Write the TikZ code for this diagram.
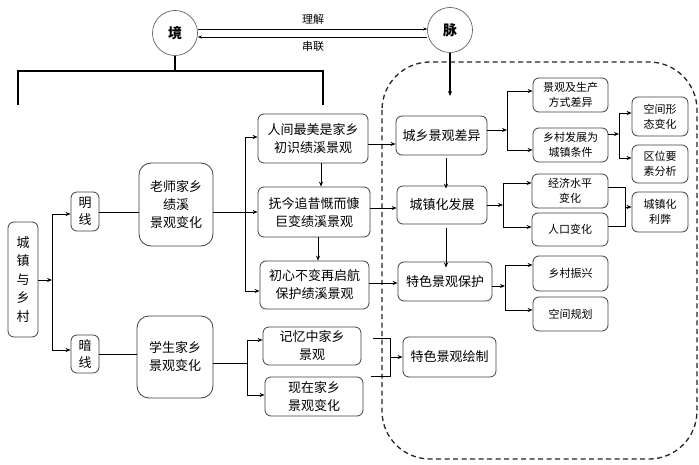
\documentclass[tikz,border=0pt]{standalone}
\usepackage{fontspec}
\setmainfont{Noto Sans CJK SC}
\usetikzlibrary{arrows.meta}
\begin{document}
\begin{tikzpicture}[x=1pt,y=-1pt,
  box/.style={draw=black!75, line width=0.8pt, rounded corners=6pt, align=center, inner sep=0pt, font=\fontsize{13}{18}\selectfont},
  sbox/.style={box, font=\fontsize{11}{15}\selectfont},
  bigbox/.style={box, rounded corners=12pt},
  circ/.style={draw=black!70, line width=0.6pt, circle, minimum size=45pt, inner sep=0pt, font=\fontsize{14}{16}\selectfont\bfseries},
  con/.style={line width=0.8pt},
  arr/.style={con, -{Stealth[length=5pt,width=4pt]}},
  lbl/.style={font=\fontsize{11}{13}\selectfont, inner sep=0pt}
]
\useasboundingbox (0,0) rectangle (699,465);
\fill[white] (0,0) rectangle (699,465);

% dashed region
\draw[line width=1.3pt, dash pattern=on 5pt off 3.5pt, rounded corners=48pt, black!85] (382,62) rectangle (697,459);

% circles
\node[circ] (jing) at (175,33) {境};
\node[circ] (mai) at (450,30) {脉};
\node[lbl] (lj) at (313,19) {理解};
\node[lbl] (cl) at (313,46) {串联};
\draw[con, line width=0.5pt, -{Stealth[length=4pt,width=3pt]}] (jing.east |- 0,29) -- (mai.west |- 0,29);
\draw[con, line width=0.7pt, -{Stealth[length=4pt,width=3pt]}] (mai.west |- 0,37) -- (jing.east |- 0,37);

% top bracket
\coordinate (bl) at (18,105);
\coordinate (br) at (323,105);
\coordinate (bm) at (175,71);
\draw[line width=1.5pt] (jing.south) -- (bm);
\draw[line width=1.5pt] (bl) -- (18,71) -- (323,71) -- (br);
\coordinate (mdown) at (450,96);
\draw[line width=1.2pt, -{Stealth[length=5pt,width=4pt]}] (mai.south) -- (mdown);

% left column
\node[box] (cx) at (23,279.5) [minimum width=30pt, minimum height=115pt, font=\fontsize{13}{18.5}\selectfont] {城\\镇\\与\\乡\\村};
\node[box] (ming) at (85,211.5) [minimum width=28pt, minimum height=39pt, font=\fontsize{13}{17}\selectfont] {明\\线};
\node[box] (an) at (85,354) [minimum width=28pt, minimum height=38pt, font=\fontsize{13}{17}\selectfont] {暗\\线};
\node[bigbox] (laoshi) at (176,204.5) [minimum width=74pt, minimum height=83pt] {老师家乡\\绩溪\\景观变化};
\node[bigbox] (xuesheng) at (175,357) [minimum width=76pt, minimum height=82pt] {学生家乡\\景观变化};

% middle column
\node[box] (renjian) at (313,138.5) [minimum width=110pt, minimum height=49pt] {人间最美是家乡\\初识绩溪景观};
\node[box] (fujin) at (314,212) [minimum width=112pt, minimum height=50pt] {抚今追昔慨而慷\\巨变绩溪景观};
\node[box] (chuxin) at (314.5,285) [minimum width=109pt, minimum height=48pt] {初心不变再启航\\保护绩溪景观};
\node[box] (jiyi) at (312,346) [minimum width=98pt, minimum height=38pt] {记忆中家乡\\景观};
\node[box] (xianzai) at (314,396.5) [minimum width=98pt, minimum height=39pt] {现在家乡\\景观变化};

% right main column
\node[box] (chayi) at (441.5,135.5) [minimum width=91pt, minimum height=39pt] {城乡景观差异};
\node[box] (czh) at (442,205) [minimum width=90pt, minimum height=38pt] {城镇化发展};
\node[box] (tsbh) at (445,281.5) [minimum width=94pt, minimum height=39pt] {特色景观保护};
\node[box] (tshz) at (449.5,357) [minimum width=93pt, minimum height=40pt] {特色景观绘制};

% small boxes
\node[sbox] (jgsc) at (570.5,95) [minimum width=75pt, minimum height=34pt] {景观及生产\\方式差异};
\node[sbox] (xcfz) at (570.5,145) [minimum width=75pt, minimum height=34pt] {乡村发展为\\城镇条件};
\node[sbox] (kjxt) at (660,116.5) [minimum width=56pt, minimum height=39pt] {空间形\\态变化};
\node[sbox] (qwys) at (660,164) [minimum width=56pt, minimum height=38pt] {区位要\\素分析};
\node[sbox] (jjsp) at (570,191) [minimum width=76pt, minimum height=34pt] {经济水平\\变化};
\node[sbox] (rkbh) at (570,229.5) [minimum width=76pt, minimum height=33pt] {人口变化};
\node[sbox] (czhlb) at (660,212) [minimum width=56pt, minimum height=40pt] {城镇化\\利弊};
\node[sbox] (xczx) at (570.5,273.5) [minimum width=75pt, minimum height=35pt] {乡村振兴};
\node[sbox] (kjgh) at (570.5,314) [minimum width=75pt, minimum height=34pt] {空间规划};

% left connectors
\draw[arr] (cx.east |- 0,280) -- (52,280);
\draw[arr] (52,280) |- (ming.west |- 0,214);
\draw[arr] (52,280) |- (an.west |- 0,350);
\draw[con] (ming.east |- 0,212) -- (laoshi.west |- 0,212);
\draw[con] (an.east |- 0,354) -- (xuesheng.west |- 0,354);

% laoshi bracket
\draw[con] (laoshi.east |- 0,212) -- (245,212);
\draw[arr] (245,212) |- (renjian.west |- 0,137);
\draw[arr] (245,212) -- (fujin.west |- 0,212);
\draw[arr] (245,212) |- (chuxin.west |- 0,291);

% xuesheng bracket
\draw[con] (xuesheng.east |- 0,363) -- (247,363);
\draw[arr] (247,363) |- (jiyi.west |- 0,340);
\draw[arr] (247,363) |- (xianzai.west |- 0,395);

% vertical chain in middle
\draw[arr] (321,0 |- renjian.south) -- (321,0 |- fujin.north);
\draw[arr] (318,0 |- fujin.south) -- (318,0 |- chuxin.north);

% middle to right
\draw[arr] (renjian.east |- 0,144) -- (chayi.west |- 0,144);
\draw[arr] (fujin.east |- 0,208) -- (czh.west |- 0,208);
\draw[arr] (chuxin.east |- 0,283) -- (tsbh.west |- 0,283);

% right vertical chain
\draw[arr] (446,0 |- chayi.south) ++(0,3) -- ([yshift=-3pt]446,0 |- czh.north);
\draw[arr] (446,0 |- czh.south) ++(0,4) -- ([yshift=-6pt]446,0 |- tsbh.north);

% memory bracket
\coordinate (m1) at (373,338);
\coordinate (m2) at (371,376);
\draw[con] (m1) -- (390,338) -- (390,376) -- (m2);
\draw[arr] (390,357) -- (tshz.west |- 0,357);

% chayi bracket
\draw[arr] (chayi.east |- 0,130) -- (507,130);
\draw[con] (507,91) -- (507,150);
\draw[arr] (507,91) -- (jgsc.west |- 0,91);
\draw[arr] (507,150) -- (xcfz.west |- 0,150);

% xcfz bracket
\draw[arr] (xcfz.east |- 0,134) -- (619,134);
\draw[con] (619,113) -- (619,158);
\draw[arr] (619,113) -- (kjxt.west |- 0,113);
\draw[arr] (619,158) -- (qwys.west |- 0,158);

% czh bracket
\draw[arr] (czh.east |- 0,205) -- (503,205);
\draw[con] (503,183) -- (503,227);
\draw[arr] (503,183) -- (jjsp.west |- 0,183);
\draw[arr] (503,227) -- (rkbh.west |- 0,227);

% merge to czhlb
\draw[con] (jjsp.east |- 0,187) -- (625,187) -- (625,226) -- (rkbh.east |- 0,226);
\draw[arr] (625,207) -- (czhlb.west |- 0,207);

% tsbh bracket
\draw[arr] (tsbh.east |- 0,286) -- (505,286);
\draw[con] (505,265) -- (505,310);
\draw[arr] (505,265) -- (xczx.west |- 0,265);
\draw[arr] (505,310) -- (kjgh.west |- 0,310);
\end{tikzpicture}
\end{document}
